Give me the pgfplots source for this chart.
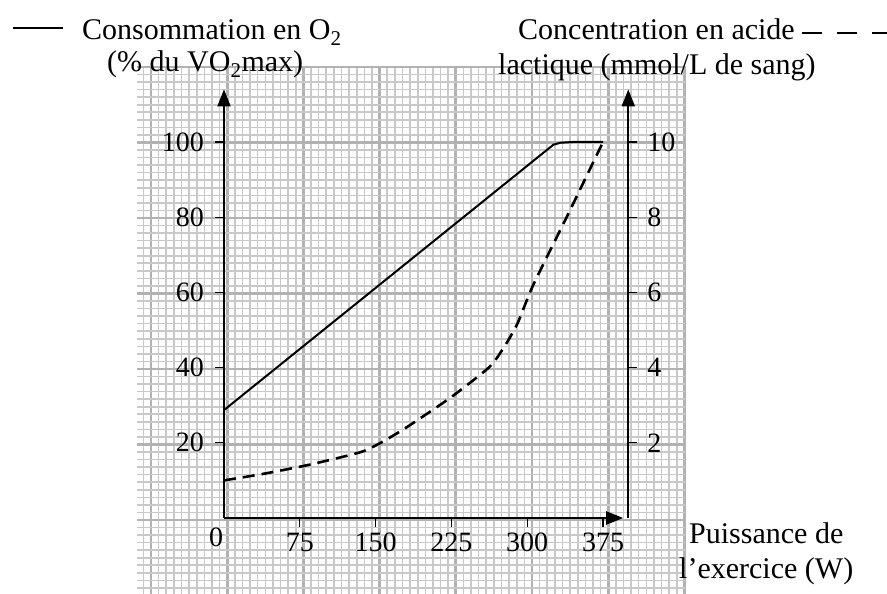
\documentclass[border=0pt]{standalone}
\usepackage{fontspec}
\setmainfont{Liberation Serif}
\usepackage{pgfplots}
\pgfplotsset{compat=1.18}
\usetikzlibrary{arrows.meta}
\newcommand{\tfont}{\fontsize{30}{34}\selectfont}
\newcommand{\kfont}{\fontsize{28}{30}\selectfont}
\begin{document}
\begin{tikzpicture}
\path[use as bounding box] (0pt,0pt) rectangle (887pt,594pt);
% graph paper background
\begin{axis}[at={(137pt,0pt)}, anchor=south west, x=1pt, y=1pt,
  xmin=0, xmax=548, ymin=0, ymax=528,
  axis line style={draw=none}, tick style={draw=none},
  major tick length=0pt, minor tick length=0pt,
  xticklabels={}, yticklabels={},
  xtick={14,90.2,...,549}, minor xtick={6.38,14,...,549},
  ytick={74,149.5,...,529}, minor ytick={-1.5,6.05,...,529},
  grid=both,
  minor grid style={black!21, line width=1.6pt},
  major grid style={black!30, line width=2.8pt}]
\addplot[draw=none] coordinates {(0,0)};
\end{axis}
% O2 axis
\begin{axis}[at={(224pt,76pt)}, anchor=south west, x=1.0107pt, y=3.76pt,
  xmin=0, xmax=395, ymin=0, ymax=114, clip=false,
  axis x line=bottom, axis y line=left,
  x axis line style={line width=2pt, -{Triangle[length=17pt,width=13pt]}},
  y axis line style={line width=2pt, -{Triangle[length=17pt,width=13pt]}},
  xtick={75,150,...,375}, ytick={20,40,...,100},
  tick align=outside, major tick length=9pt,
  tick style={line width=1.2pt, black},
  /pgf/number format/assume math mode=true,
  tick label style={font=\kfont, inner sep=0pt},
  xticklabel style={yshift=-6pt},
  yticklabel style={xshift=-11pt}]
\addplot[black, line width=2pt] coordinates {(0,28.7) (326,99.3) (333,99.8) (345,100) (375,100)};
\node[font=\kfont, inner sep=0pt] at (axis cs:0,0) [xshift=-8pt, yshift=-19pt] {0};
\end{axis}
% lactic acid axis
\begin{axis}[at={(224pt,76pt)}, anchor=south west, x=1.0107pt, y=37.6pt,
  xmin=0, xmax=400, ymin=0, ymax=11.4, clip=false,
  axis x line=none, axis y line*=right,
  y axis line style={line width=2pt, -{Triangle[length=17pt,width=13pt]}},
  ytick={2,4,...,10},
  tick align=outside, major tick length=9pt,
  tick style={line width=1.2pt, black},
  /pgf/number format/assume math mode=true,
  tick label style={font=\kfont, inner sep=0pt},
  yticklabel style={xshift=10pt}]
\addplot[black, line width=2.6pt, dash pattern=on 12pt off 7pt, smooth, tension=0.4]
  coordinates {(0,1.0) (40,1.18) (85,1.42) (135,1.75) (155,2.0) (180,2.4) (224,3.2) (262,4.0) (276,4.5) (290,5.15) (306,6.2) (339,8.0) (375,10)};
\end{axis}
% legend keys and titles
\draw[black, line width=1.3pt] (13pt,566pt) -- (63pt,566pt);
\draw[black, line width=1.3pt, dash pattern=on 20pt off 15pt] (802pt,561pt) -- (887pt,561pt);
\node[font=\tfont, anchor=base west, inner sep=0pt] at (82pt,554pt) {Consommation en O\textsubscript{2}};
\node[font=\tfont, anchor=base west, inner sep=0pt] at (107pt,522pt) {(\% du VO\textsubscript{2}max)};
\node[font=\tfont, anchor=base west, inner sep=0pt] at (518pt,554pt) {Concentration en acide};
\node[font=\tfont, anchor=base west, inner sep=0pt] at (498pt,519pt) {lactique (mmol/L de sang)};
\node[font=\tfont, anchor=base west, inner sep=0pt] at (689pt,50pt) {Puissance de};
\node[font=\tfont, anchor=base west, inner sep=0pt] at (679pt,15pt) {l’exercice (W)};
\end{tikzpicture}
\end{document}
